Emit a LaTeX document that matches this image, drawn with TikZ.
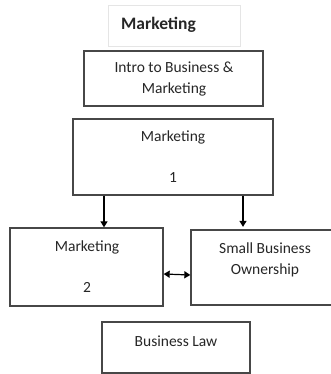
\documentclass[tikz,border=0pt]{standalone}
\usepackage{fontspec}
\setmainfont{Carlito}
\usetikzlibrary{arrows.meta}
\begin{document}
\begin{tikzpicture}[x=1pt,y=-1pt,
  box/.style={draw=black!72, line width=1.3pt, inner sep=0pt},
  txt/.style={inner sep=0pt, align=center, font=\fontsize{15.5}{21}\selectfont, text=black!85},
  arr/.style={draw=black, line width=1.2pt, -{Triangle[length=6pt,width=7pt]}},
  darr/.style={draw=black, line width=1.2pt, {Triangle[length=6pt,width=7pt]}-{Triangle[length=6pt,width=7pt]}}]
\useasboundingbox (0,0) rectangle (331,374);
\clip (0,0) rectangle (331,374);
% title
\node[draw=black!10, line width=0.8pt, minimum width=132pt, minimum height=41pt, inner sep=0pt] (title) at (174,26) {};
\node[txt, font=\fontsize{17.5}{20}\bfseries\selectfont, anchor=west] (titletext) at (121,25) {Marketing};
% intro
\node[box, minimum width=179pt, minimum height=55pt] (intro) at (173.5,78.5) {};
\node[txt] (introtext) at (174,79.5) {Intro to Business \&\\Marketing};
% marketing 1
\node[box, minimum width=200pt, minimum height=76pt] (m1) at (173,157) {};
\node[txt] (m1a) at (173,137) {Marketing};
\node[txt] (m1b) at (173,178) {1};
% marketing 2
\node[box, minimum width=153pt, minimum height=78pt] (m2) at (86.5,267) {};
\node[txt] (m2a) at (87,247) {Marketing};
\node[txt] (m2b) at (87,287) {2};
% small business
\node[box, minimum width=144pt, minimum height=75pt] (sbo) at (263,267.5) {};
\node[txt] (sbotext) at (265,260) {Small Business\\Ownership};
% business law
\node[box, minimum width=148pt, minimum height=51pt] (bl) at (176,347.5) {};
\node[txt] (bltext) at (176,341) {Business Law};
% connectors
\draw[arr] ([xshift=-69pt]m1.south) -- ([xshift=17.5pt]m2.north);
\draw[arr, shorten >=2.5pt] ([xshift=70pt]m1.south) -- ([xshift=-20pt]sbo.north);
\draw[darr] ([yshift=-7pt]m2.east) -- ([yshift=-7.5pt]sbo.west);
\end{tikzpicture}
\end{document}
